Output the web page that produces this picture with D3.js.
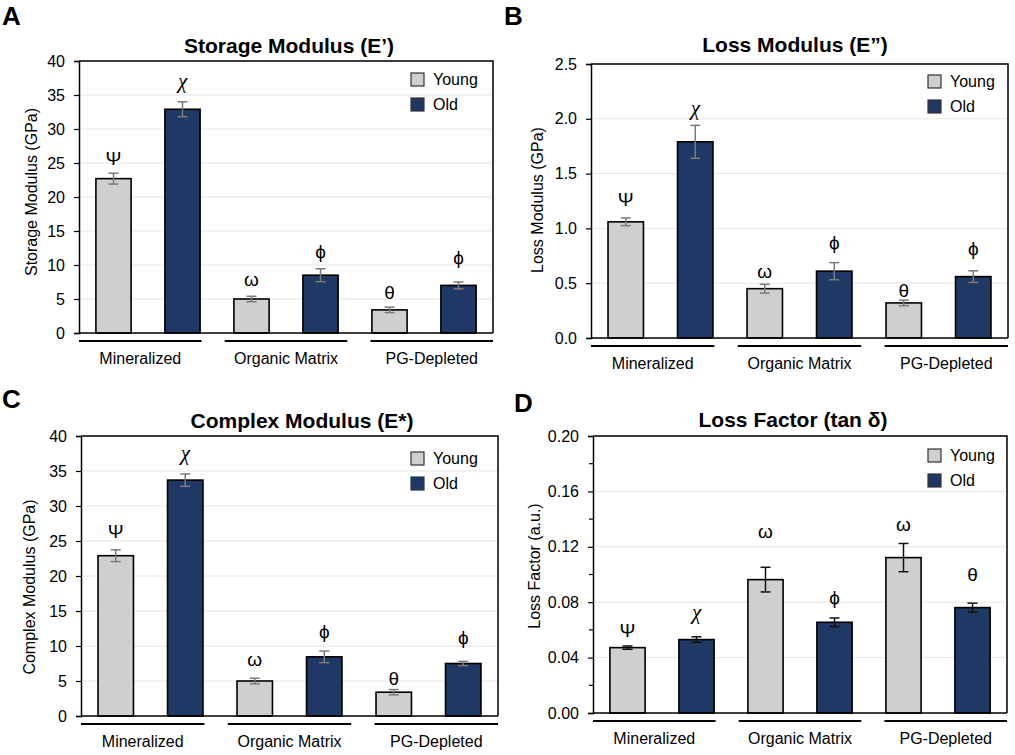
<!DOCTYPE html>
<html>
<head>
<meta charset="utf-8">
<script src="https://cdn.jsdelivr.net/npm/d3@7"></script>
<style>
  html, body { margin: 0; padding: 0; background: #fff; }
  svg { display: block; font-family: "Liberation Sans", Arial, sans-serif; }
</style>
</head>
<body>
<svg id="chart" width="1015" height="755"></svg>
<script>
// ---------------- DATA ----------------
const categories = ["Mineralized", "Organic Matrix", "PG-Depleted"];
const seriesNames = ["Young", "Old"];

// Storage modulus E' (GPa)
const storageYoung = [22.7, 5.0, 3.4];
const storageYoungErr = [0.8, 0.4, 0.4];
const storageOld = [32.9, 8.5, 7.0];
const storageOldErr = [1.1, 0.95, 0.5];
const storageYoungSym = ["Ψ", "ω", "θ"];
const storageOldSym = ["χ", "ϕ", "ϕ"];
const storageYoungSymAt = [25.6, 7.6, 5.9];
const storageOldSymAt = [36.5, 11.8, 10.9];
const storageTicks = [0, 5, 10, 15, 20, 25, 30, 35, 40];

// Loss modulus E'' (GPa)
const lossYoung = [1.06, 0.45, 0.32];
const lossYoungErr = [0.035, 0.04, 0.025];
const lossOld = [1.79, 0.61, 0.56];
const lossOldErr = [0.15, 0.078, 0.053];
const lossYoungSym = ["Ψ", "ω", "θ"];
const lossOldSym = ["χ", "ϕ", "ϕ"];
const lossYoungSymAt = [1.26, 0.59, 0.43];
const lossOldSymAt = [2.06, 0.86, 0.80];
const lossTicks = [0, 0.5, 1.0, 1.5, 2.0, 2.5];

// Complex modulus E* (GPa)
const complexYoung = [22.9, 5.0, 3.4];
const complexYoungErr = [0.84, 0.4, 0.38];
const complexOld = [33.7, 8.45, 7.5];
const complexOldErr = [0.88, 0.83, 0.3];
const complexYoungSym = ["Ψ", "ω", "θ"];
const complexOldSym = ["χ", "ϕ", "ϕ"];
const complexYoungSymAt = [26.4, 7.8, 5.3];
const complexOldSymAt = [37.0, 11.9, 11.05];
const complexTicks = [0, 5, 10, 15, 20, 25, 30, 35, 40];

// Loss factor tan δ (a.u.)
const tanYoung = [0.0472, 0.0963, 0.1122];
const tanYoungErr = [0.0012, 0.0089, 0.0102];
const tanOld = [0.053, 0.0655, 0.0761];
const tanOldErr = [0.002, 0.0031, 0.0032];
const tanYoungSym = ["Ψ", "ω", "ω"];
const tanOldSym = ["χ", "ϕ", "θ"];
const tanYoungSymAt = [0.0597, 0.1295, 0.1348];
const tanOldSymAt = [0.070, 0.0826, 0.0999];
const tanTicks = [0, 0.04, 0.08, 0.12, 0.16, 0.20];
const tanMinorTicks = [0.02, 0.06, 0.10, 0.14, 0.18];

// ---------------- STYLE ----------------
const colors = { Young: "#d0cece", Old: "#203864" };
// vertical optical-centering nudges per glyph (style only)
const symDy = { "χ": "-0.2em", "ω": "-0.1em", "ϕ": "-0.08em", "Ψ": "0em", "θ": "0em" };

const svg = d3.select("#chart");

function drawPanel(cfg) {
  const g = svg.append("g");
  const { x0, x1, y0, y1 } = cfg.box;
  const W = x1 - x0;

  const rows = [];
  categories.forEach((c, i) => {
    rows.push({ key: c + "|Young", cat: c, s: "Young", v: cfg.young[i], e: cfg.youngErr[i], sym: cfg.youngSym[i], symAt: cfg.youngSymAt[i] });
    rows.push({ key: c + "|Old", cat: c, s: "Old", v: cfg.old[i], e: cfg.oldErr[i], sym: cfg.oldSym[i], symAt: cfg.oldSymAt[i] });
  });

  const x = d3.scaleBand().domain(rows.map(r => r.key)).range([x0, x1])
    .paddingInner(0.49).paddingOuter(0.245);
  const y = d3.scaleLinear().domain(cfg.domain).range([y1, y0]);

  // gridlines
  g.append("g").selectAll("line").data(cfg.ticks.filter(t => t > cfg.domain[0]))
    .join("line")
    .attr("x1", x0).attr("x2", x1)
    .attr("y1", d => y(d)).attr("y2", d => y(d))
    .attr("stroke", "#e6e6e6").attr("stroke-width", 1);

  // frame (top and right)
  g.append("path")
    .attr("d", `M${x0},${y0}H${x1}V${y1}`)
    .attr("fill", "none").attr("stroke", "#000").attr("stroke-width", 1.5);

  // y axis
  const yAxis = d3.axisLeft(y).tickValues(cfg.ticks).tickFormat(cfg.fmt)
    .tickSize(5).tickPadding(9);
  const ya = g.append("g").attr("transform", `translate(${x0},0)`).call(yAxis);
  ya.select(".domain").attr("stroke", "#000").attr("stroke-width", 1.5);
  ya.selectAll(".tick line").attr("stroke", "#000").attr("stroke-width", 1.2);
  ya.selectAll(".tick text").attr("font-size", 16).attr("fill", "#000")
    .attr("font-family", "Liberation Sans, Arial, sans-serif");

  if (cfg.minor) {
    g.append("g").selectAll("line").data(cfg.minor).join("line")
      .attr("x1", x0 - 4).attr("x2", x0)
      .attr("y1", d => y(d)).attr("y2", d => y(d))
      .attr("stroke", "#000").attr("stroke-width", 1.2);
  }

  // bars
  g.append("g").selectAll("rect").data(rows).join("rect")
    .attr("x", d => x(d.key)).attr("width", x.bandwidth())
    .attr("y", d => y(d.v)).attr("height", d => y(cfg.domain[0]) - y(d.v))
    .attr("fill", d => colors[d.s]).attr("stroke", "#000").attr("stroke-width", 1.6);

  // x axis baseline
  g.append("line").attr("x1", x0).attr("x2", x1).attr("y1", y1).attr("y2", y1)
    .attr("stroke", "#000").attr("stroke-width", 1.5);

  // error bars
  const eb = g.append("g").attr("stroke", cfg.errColor).attr("stroke-width", 1.5);
  rows.forEach(d => {
    const cx = x(d.key) + x.bandwidth() / 2;
    eb.append("line").attr("x1", cx).attr("x2", cx).attr("y1", y(d.v + d.e)).attr("y2", y(d.v - d.e));
    eb.append("line").attr("x1", cx - 5).attr("x2", cx + 5).attr("y1", y(d.v + d.e)).attr("y2", y(d.v + d.e));
    eb.append("line").attr("x1", cx - 5).attr("x2", cx + 5).attr("y1", y(d.v - d.e)).attr("y2", y(d.v - d.e));
  });

  // significance symbols
  g.append("g").selectAll("text").data(rows).join("text")
    .attr("x", d => x(d.key) + x.bandwidth() / 2)
    .attr("y", d => y(d.symAt))
    .attr("dy", d => symDy[d.sym] || "0em")
    .attr("text-anchor", "middle").attr("dominant-baseline", "central")
    .attr("font-size", d => d.sym === "χ" ? 21 : 19)
    .attr("font-style", d => d.sym === "χ" ? "italic" : "normal")
    .attr("font-family", d => d.sym === "χ" ? "Liberation Serif, serif" : "Liberation Sans, Arial, sans-serif")
    .attr("fill", "#000")
    .text(d => d.sym);

  // group underlines and labels
  const L = 0.296 * W;
  const gap = (W - L) / 2;
  categories.forEach((c, i) => {
    const sx = x0 + i * gap;
    g.append("line").attr("x1", sx).attr("x2", sx + L)
      .attr("y1", y1 + 8).attr("y2", y1 + 8)
      .attr("stroke", "#000").attr("stroke-width", 2);
    g.append("text").attr("x", sx + L / 2).attr("y", y1 + 31)
      .attr("text-anchor", "middle").attr("font-size", 16).attr("fill", "#000")
      .text(c);
  });

  // title
  g.append("text").attr("x", cfg.titleX).attr("y", y0 - cfg.titleGap)
    .attr("text-anchor", "middle").attr("font-size", 21).attr("font-weight", "bold")
    .attr("fill", "#000").text(cfg.title);

  // y axis title
  g.append("text")
    .attr("transform", `translate(${cfg.yTitleX},${cfg.yTitleY}) rotate(-90)`)
    .attr("text-anchor", "middle").attr("dominant-baseline", "central")
    .attr("font-size", 16).attr("fill", "#000").text(cfg.yTitle);

  // legend
  const lg = g.append("g").attr("transform", `translate(${x1 - cfg.legendRight},${y0 + cfg.legendTop})`);
  seriesNames.forEach((s, i) => {
    lg.append("rect").attr("x", 0).attr("y", i * 25).attr("width", 13).attr("height", 13)
      .attr("fill", colors[s]).attr("stroke", "#333").attr("stroke-width", 1.2);
    lg.append("text").attr("x", 22).attr("y", i * 25 + 6.5)
      .attr("dominant-baseline", "central").attr("font-size", 16).attr("fill", "#000").text(s);
  });

  // panel letter
  g.append("text").attr("x", cfg.letterX).attr("y", cfg.letterY)
    .attr("font-size", 26).attr("font-weight", "bold").attr("fill", "#000").text(cfg.letter);
}

const f0 = d3.format("d"), f1 = d3.format(".1f"), f2 = d3.format(".2f");

drawPanel({
  letter: "A", letterX: 2, letterY: 25,
  title: "Storage Modulus (E\u2019)", titleX: 289, titleGap: 8,
  yTitle: "Storage Modulus (GPa)", yTitleX: 31, yTitleY: 192,
  box: { x0: 79, x1: 493, y0: 61, y1: 333 },
  domain: [0, 40], ticks: storageTicks, fmt: f0,
  young: storageYoung, youngErr: storageYoungErr, old: storageOld, oldErr: storageOldErr,
  youngSym: storageYoungSym, oldSym: storageOldSym, youngSymAt: storageYoungSymAt, oldSymAt: storageOldSymAt,
  errColor: "#7a7a7a", legendRight: 82, legendTop: 12
});

drawPanel({
  letter: "B", letterX: 504, letterY: 25,
  title: "Loss Modulus (E\u201D)", titleX: 795, titleGap: 12,
  yTitle: "Loss Modulus (GPa)", yTitleX: 537, yTitleY: 200,
  box: { x0: 591, x1: 1008, y0: 64, y1: 338 },
  domain: [0, 2.5], ticks: lossTicks, fmt: f1,
  young: lossYoung, youngErr: lossYoungErr, old: lossOld, oldErr: lossOldErr,
  youngSym: lossYoungSym, oldSym: lossOldSym, youngSymAt: lossYoungSymAt, oldSymAt: lossOldSymAt,
  errColor: "#7a7a7a", legendRight: 80, legendTop: 11
});

drawPanel({
  letter: "C", letterX: 2, letterY: 408,
  title: "Complex Modulus (E*)", titleX: 302, titleGap: 8,
  yTitle: "Complex Modulus (GPa)", yTitleX: 29, yTitleY: 587,
  box: { x0: 81, x1: 498, y0: 436, y1: 716 },
  domain: [0, 40], ticks: complexTicks, fmt: f0,
  young: complexYoung, youngErr: complexYoungErr, old: complexOld, oldErr: complexOldErr,
  youngSym: complexYoungSym, oldSym: complexOldSym, youngSymAt: complexYoungSymAt, oldSymAt: complexOldSymAt,
  errColor: "#7a7a7a", legendRight: 87, legendTop: 16
});

drawPanel({
  letter: "D", letterX: 514, letterY: 412,
  title: "Loss Factor (tan \u03B4)", titleX: 793, titleGap: 9,
  yTitle: "Loss Factor (a.u.)", yTitleX: 534, yTitleY: 566,
  box: { x0: 593, x1: 1007, y0: 436, y1: 713 },
  domain: [0, 0.2], ticks: tanTicks, fmt: f2, minor: tanMinorTicks,
  young: tanYoung, youngErr: tanYoungErr, old: tanOld, oldErr: tanOldErr,
  youngSym: tanYoungSym, oldSym: tanOldSym, youngSymAt: tanYoungSymAt, oldSymAt: tanOldSymAt,
  errColor: "#111", legendRight: 79, legendTop: 13
});
</script>
</body>
</html>
